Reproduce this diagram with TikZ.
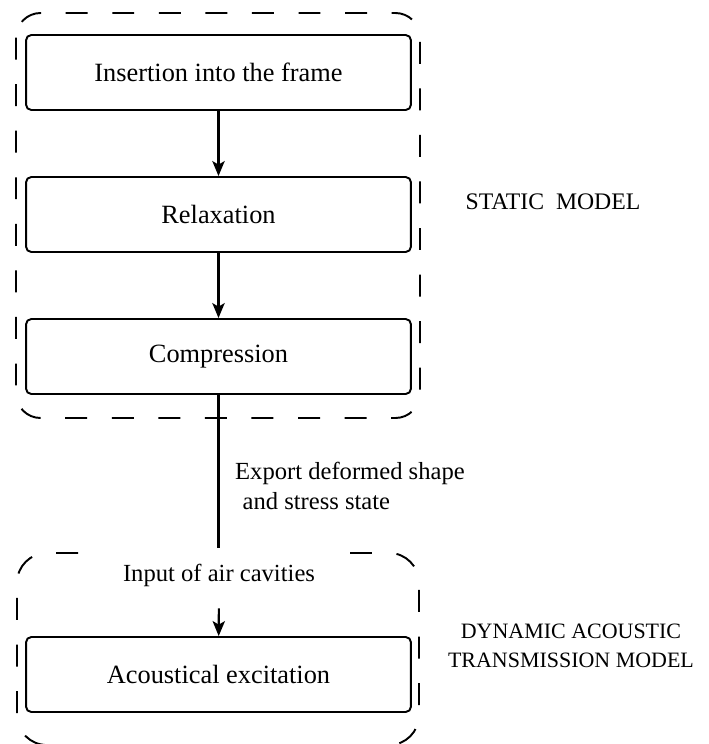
\documentclass[tikz,border=0pt]{standalone}
\usepackage{fontspec}
\setmainfont{Liberation Serif}
\usetikzlibrary{arrows.meta, positioning}

\begin{document}
\begin{tikzpicture}[
    x=0.02cm, y=-0.02cm,
    >={Stealth[length=8.5pt, width=7pt, inset=2pt]},
    stagebox/.style={draw, line width=1.1pt, rounded corners=3pt, minimum width=7.7cm, minimum height=1.5cm, font=\fontsize{15}{18}\selectfont},
    modelbox/.style={draw, line width=1.1pt, dash pattern=on 12.5pt off 14pt},
    flow/.style={->, line width=1.2pt},
    caption/.style={align=center, font=\fontsize{12.5}{16.5}\selectfont},
    note/.style={font=\fontsize{14}{17}\selectfont},
]
    \useasboundingbox (0,0) rectangle (709,744);

    % Static model
    \draw[modelbox, rounded corners=14pt] (16,13) rectangle (420,418);
    \node[stagebox] (insert) at (218.5,72.5) {Insertion into the frame};
    \node[stagebox] (relax) at (218.5,214.5) {Relaxation};
    \node[stagebox] (compress) at (218.5,356.5) {Compression};
    \node[caption, font=\fontsize{13.5}{16.5}\selectfont] (static) at (553,202) {STATIC\ \ MODEL};
    \draw[flow] (insert) -- (relax);
    \draw[flow] (relax) -- (compress);

    % Export to the dynamic model
    \coordinate (exportend) at (218.5,548);
    \draw[line width=1.2pt] (compress) -- (exportend);
    \node[note, anchor=west, align=left] (export) at (229,486) {Export deformed shape\\\hspace*{0.3em}and stress state};

    % Dynamic acoustic model
    \draw[modelbox, rounded corners=17pt] (78,553) -- (17,553) -- (17,745) -- (218,745);
    \draw[modelbox, rounded corners=17pt] (350,553) -- (419,553) -- (419,745) -- (218,745);
    \node[note] (cavities) at (219,575) {Input of air cavities};
    \node[stagebox] (excite) at (218.5,674.5) {Acoustical excitation};
    \node[caption] (dynamic) at (571,646) {DYNAMIC ACOUSTIC\\TRANSMISSION MODEL};
    \draw[flow, shorten <=9pt] (cavities) -- (excite);
\end{tikzpicture}
\end{document}
